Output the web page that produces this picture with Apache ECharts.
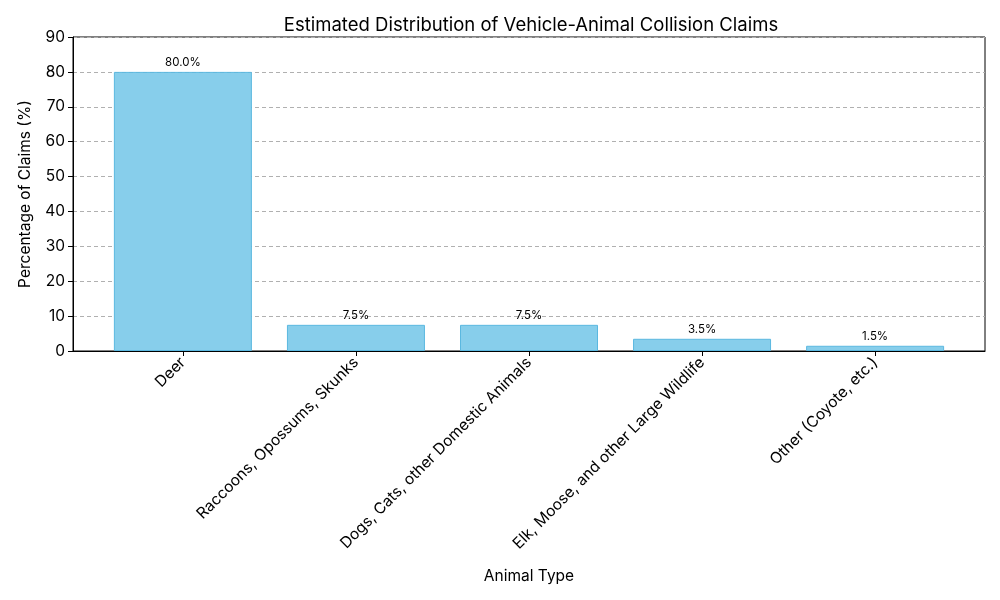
<!DOCTYPE html>
<html>
<head>
<meta charset="utf-8">
<script src="https://cdn.jsdelivr.net/npm/echarts@6/dist/echarts.min.js"></script>
<style>
  html, body { margin: 0; padding: 0; background: #fff; }
  #chart { width: 1000px; height: 600px; }
</style>
</head>
<body>
<div id="chart"></div>
<script>
const categories = [
    'Deer',
    'Raccoons, Opossums, Skunks',
    'Dogs, Cats, other Domestic Animals',
    'Elk, Moose, and other Large Wildlife',
    'Other (Coyote, etc.)',
];
const claimShare = [80.0, 7.5, 7.5, 3.5, 1.5];
const yTicks = [0, 10, 20, 30, 40, 50, 60, 70, 80, 90];

const font = 'Inter, "Noto Sans", sans-serif';
const chart = echarts.init(document.getElementById('chart'), null, { renderer: 'canvas' });

// bars sit on a value axis so the matplotlib-style side padding can be kept
const positions = categories.map((_, i) => i);

chart.setOption({
    animation: false,
    backgroundColor: '#fff',
    textStyle: { fontFamily: font },
    title: {
        text: 'Estimated Distribution of Vehicle-Animal Collision Claims',
        left: 526,
        textAlign: 'center',
        top: 11,
        textStyle: { fontFamily: font, fontSize: 18.5, fontWeight: 'normal', color: '#000' },
    },
    grid: {
        left: 73, right: 15, top: 37, bottom: 249,
        show: true, borderColor: '#000', borderWidth: 1,
    },
    xAxis: {
        type: 'value',
        min: -0.635,
        max: 4.635,
        name: 'Animal Type',
        nameLocation: 'middle',
        nameGap: 217,
        nameTextStyle: { fontSize: 15.5, color: '#000', fontFamily: font },
        axisLine: { show: true, onZero: false, lineStyle: { color: '#000', width: 1 } },
        axisTick: { show: true, length: 5, lineStyle: { color: '#000' }, customValues: positions },
        splitLine: { show: false },
        axisLabel: {
            customValues: positions,
            rotate: 45,
            margin: 9,
            fontSize: 15.5,
            color: '#000',
            fontFamily: font,
            formatter: (v) => categories[Math.round(v)] || '',
        },
    },
    yAxis: {
        type: 'value',
        min: yTicks[0],
        max: yTicks[yTicks.length - 1],
        interval: 10,
        name: 'Percentage of Claims (%)',
        nameLocation: 'middle',
        nameGap: 40,
        nameTextStyle: { fontSize: 15.5, color: '#000', fontFamily: font },
        axisLine: { show: true, onZero: false, lineStyle: { color: '#000', width: 1 } },
        axisTick: { show: true, length: 5, lineStyle: { color: '#000' } },
        axisLabel: { fontSize: 15.5, color: '#000', margin: 8, fontFamily: font },
        splitLine: { show: true, lineStyle: { color: '#b0b0b0', type: [4, 3], width: 1 } },
    },
    series: [
        {
            type: 'bar',
            barWidth: 138,
            data: claimShare.map((v, i) => [positions[i], v]),
            itemStyle: { color: '#87CEEB', borderColor: '#5BB8E0', borderWidth: 1 },
            label: {
                show: true,
                position: 'top',
                distance: 3,
                fontSize: 11.5,
                color: '#000',
                fontFamily: font,
                formatter: (p) => p.value[1].toFixed(1) + '%',
            },
        },
    ],
});
</script>
</body>
</html>
